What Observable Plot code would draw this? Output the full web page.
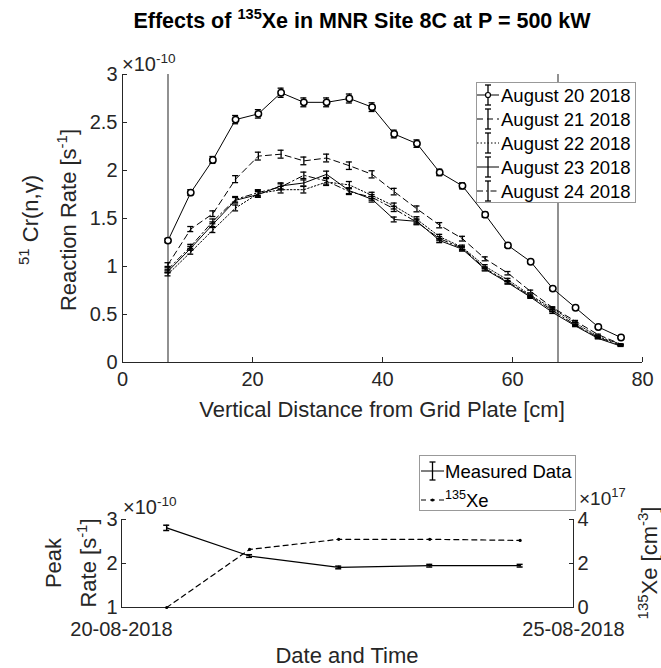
<!DOCTYPE html>
<html><head><meta charset="utf-8">
<script src="https://cdn.jsdelivr.net/npm/d3@7"></script>
<script src="https://cdn.jsdelivr.net/npm/@observablehq/plot@0.6"></script>
<style>
html,body{margin:0;padding:0;background:#fff;}
#fig{position:relative;width:661px;height:668px;overflow:hidden;background:#fff;font-family:"Liberation Sans",Arial,Helvetica,sans-serif;}
#fig svg{position:absolute;left:0;}
</style></head><body><div id="fig"></div>
<script>
// ---------- data ----------
const distance = [7, 10.5, 13.9, 17.4, 20.9, 24.4, 27.9, 31.4, 34.9, 38.4, 41.8, 45.3, 48.8, 52.3, 55.8, 59.3, 62.8, 66.2, 69.7, 73.2, 76.7];
const seriesNames = ["August 20 2018", "August 21 2018", "August 22 2018", "August 23 2018", "August 24 2018"];
const aug20 = [1.27, 1.77, 2.11, 2.53, 2.59, 2.81, 2.71, 2.71, 2.75, 2.66, 2.38, 2.28, 1.98, 1.84, 1.54, 1.22, 1.05, 0.77, 0.57, 0.37, 0.26];
const aug21 = [1.02, 1.39, 1.55, 1.91, 2.15, 2.17, 2.10, 2.13, 2.05, 1.96, 1.78, 1.60, 1.43, 1.29, 1.08, 0.93, 0.74, 0.57, 0.43, 0.29, 0.19];
const aug22 = [0.92, 1.15, 1.38, 1.61, 1.76, 1.80, 1.80, 1.88, 1.85, 1.74, 1.63, 1.49, 1.31, 1.20, 1.00, 0.86, 0.70, 0.56, 0.41, 0.27, 0.19];
const aug23 = [0.95, 1.19, 1.44, 1.69, 1.75, 1.84, 1.87, 1.96, 1.79, 1.70, 1.49, 1.47, 1.27, 1.18, 0.97, 0.83, 0.68, 0.52, 0.38, 0.25, 0.17];
const aug24 = [0.97, 1.21, 1.47, 1.70, 1.77, 1.83, 1.95, 1.89, 1.78, 1.72, 1.60, 1.46, 1.29, 1.19, 0.98, 0.84, 0.69, 0.54, 0.39, 0.26, 0.18];
const relativeError = [0.017, 0.019, 0.019, 0.017, 0.017];
const windowLines = [7, 67];
const xTicks = [0, 20, 40, 60, 80];
const yTicks = [0, 0.5, 1, 1.5, 2, 2.5, 3];

const peakDates = ["2018-08-20T12:00Z", "2018-08-21T10:00Z", "2018-08-22T09:40Z", "2018-08-23T09:50Z", "2018-08-24T09:50Z"];
const peakRate = [2.81, 2.17, 1.91, 1.95, 1.95];
const peakError = [0.06, 0.03, 0.03, 0.03, 0.03];
const xeDensity = [0, 2.64, 3.10, 3.10, 3.05];
const dateTicks = ["2018-08-20T00:00Z", "2018-08-25T00:00Z"];
const rateTicks = [1, 2, 3];
const xeTicks = [0, 2, 4];

// ---------- build tables ----------
const seriesValues = [aug20, aug21, aug22, aug23, aug24];
const dashes = [null, "6,4", "1.5,2", null, "6,3,1.5,3"];
const rows = seriesValues.map((vals, s) => vals.map((v, i) => ({series: seriesNames[s], x: distance[i], y: v, e: v * relativeError[s]})));
const peakRows = peakDates.map((d, i) => ({date: new Date(d), rate: peakRate[i], e: peakError[i], xe: xeDensity[i]}));
const dateDomain = dateTicks.map(d => new Date(d));

const FONT = '"Liberation Sans", Arial, Helvetica, sans-serif';
const AX = "#262626";
const W = 661;
const plain = d => String(d);

function errorMarks(data, x, y, e, sw = 1.3) {
  return [
    Plot.ruleX(data, {x, y1: d => d[y] - d[e], y2: d => d[y] + d[e], stroke: "black", strokeWidth: sw}),
    Plot.ruleY(data, {y: d => d[y] + d[e], x1: x, x2: x, insetLeft: -3, insetRight: -3, stroke: "black", strokeWidth: sw}),
    Plot.ruleY(data, {y: d => d[y] - d[e], x1: x, x2: x, insetLeft: -3, insetRight: -3, stroke: "black", strokeWidth: sw})
  ];
}

// ---------- top chart ----------
const topMarks = [Plot.ruleX(windowLines, {stroke: "#555", strokeWidth: 1.3})];
rows.forEach((r, s) => {
  topMarks.push(Plot.line(r, {x: "x", y: "y", stroke: "black", strokeWidth: 1, strokeDasharray: dashes[s]}));
  topMarks.push(...errorMarks(r, "x", "y", "e", 1.3));
});
topMarks.push(Plot.dot(rows[0], {x: "x", y: "y", r: 3.2, fill: "white", stroke: "black", strokeWidth: 1.5}));
topMarks.push(
  Plot.ruleX([xTicks[0]], {stroke: AX}),
  Plot.ruleY([yTicks[0]], {stroke: AX}),
  Plot.axisX({ticks: xTicks, tickSize: 0, tickPadding: 9, label: null, fill: AX, tickFormat: plain}),
  Plot.axisX({ticks: xTicks, tickSize: -5, fill: "none", stroke: AX, label: null}),
  Plot.axisY({ticks: yTicks, tickSize: 0, tickPadding: 5, label: null, fill: AX, tickFormat: plain}),
  Plot.axisY({ticks: yTicks, tickSize: -5, fill: "none", stroke: AX, label: null})
);
const topPlot = Plot.plot({
  width: W, height: 390, marginTop: 34, marginBottom: 68, marginLeft: 122, marginRight: 19,
  style: {fontFamily: FONT, fontSize: "20px", background: "transparent", overflow: "visible", color: AX},
  x: {domain: [xTicks[0], xTicks[xTicks.length - 1]]},
  y: {domain: [yTicks[0], yTicks[yTicks.length - 1]]},
  marks: topMarks
});
topPlot.style.top = "40px";

// ---------- bottom chart: measured peak rate (left axis) ----------
const bottomPlot = Plot.plot({
  width: W, height: 188, marginTop: 39, marginBottom: 61, marginLeft: 121, marginRight: 88,
  style: {fontFamily: FONT, fontSize: "20px", background: "transparent", overflow: "visible", color: AX},
  x: {type: "utc", domain: dateDomain},
  y: {domain: [rateTicks[0], rateTicks[rateTicks.length - 1]]},
  marks: [
    Plot.line(peakRows, {x: "date", y: "rate", stroke: "black", strokeWidth: 1.2}),
    ...errorMarks(peakRows, "date", "rate", "e", 1.5),
    Plot.ruleX([dateDomain[0]], {stroke: AX}),
    Plot.ruleY([rateTicks[0]], {stroke: AX}),
    Plot.axisX({ticks: dateDomain, tickFormat: d3.utcFormat("%d-%m-%Y"), tickSize: 0, tickPadding: 14, label: null, fill: AX}),
    Plot.axisY({ticks: rateTicks, tickSize: 0, tickPadding: 4, label: null, fill: AX, tickFormat: plain}),
    Plot.axisY({ticks: rateTicks, tickSize: -5, fill: "none", stroke: AX, label: null})
  ]
});
bottomPlot.style.top = "480px";

// ---------- bottom chart: 135Xe (right axis) ----------
const xePlot = Plot.plot({
  width: W, height: 188, marginTop: 39, marginBottom: 61, marginLeft: 121, marginRight: 88,
  style: {fontFamily: FONT, fontSize: "20px", background: "transparent", overflow: "visible", color: AX},
  x: {type: "utc", domain: dateDomain, axis: null},
  y: {domain: [xeTicks[0], xeTicks[xeTicks.length - 1]]},
  marks: [
    Plot.line(peakRows, {x: "date", y: "xe", stroke: "black", strokeWidth: 1.2, strokeDasharray: "5,4"}),
    Plot.dot(peakRows, {x: "date", y: "xe", r: 1.6, fill: "black"}),
    Plot.ruleX([dateDomain[1]], {stroke: AX}),
    Plot.axisY({anchor: "right", ticks: xeTicks, tickSize: 0, tickPadding: 4, label: null, fill: AX, tickFormat: plain}),
    Plot.axisY({anchor: "right", ticks: xeTicks, tickSize: -5, fill: "none", stroke: AX, label: null})
  ]
});
xePlot.style.top = "480px";

const fig = document.getElementById("fig");
fig.append(topPlot, bottomPlot, xePlot);

// ---------- text & legends overlay ----------
const ov = d3.select(fig).append("svg").attr("width", W).attr("height", 668)
  .style("top", "0px").style("font-family", FONT);

function label(x, y, parts, {size = 22, anchor = "middle", rotate = 0, weight = "normal", fill = AX} = {}) {
  const t = ov.append("text").attr("transform", `translate(${x},${y}) rotate(${rotate})`)
    .attr("text-anchor", anchor).attr("font-size", size).attr("font-weight", weight).attr("fill", fill);
  let shift = 0;
  for (const [s, kind] of parts) {
    const want = kind === "sup" ? -0.42 * size : 0;
    t.append("tspan").attr("dy", want - shift).attr("font-size", kind === "sup" ? size * 0.68 : size).text(s);
    shift = want;
  }
  return t;
}

label(362, 28, [["Effects of "], ["135", "sup"], ["Xe in MNR Site 8C at P = 500 kW"]], {size: 21.5, weight: "bold", fill: "black"});
label(122, 71, [["×10"], ["-10", "sup"]], {size: 20, anchor: "start"});
label(38, 220, [["51", "sup"], [" Cr(n,γ)"]], {rotate: -90});
label(76, 220, [["Reaction Rate [s"], ["-1", "sup"], ["]"]], {rotate: -90});
label(382, 417, [["Vertical Distance from Grid Plate [cm]"]]);

label(123, 514, [["×10"], ["-10", "sup"]], {size: 20, anchor: "start"});
label(579, 505, [["×10"], ["17", "sup"]], {size: 19, anchor: "start"});
label(61, 563, [["Peak"]], {rotate: -90});
label(96, 563, [["Rate [s"], ["-1", "sup"], ["]"]], {rotate: -90});
label(657, 563, [["135", "sup"], ["Xe [cm"], ["-3", "sup"], ["]"]], {rotate: -90});
label(347, 663, [["Date and Time"]]);

function swatch(x0, x1, cy, dash, bar, dot, circle) {
  ov.append("line").attr("x1", x0).attr("x2", x1).attr("y1", cy).attr("y2", cy)
    .attr("stroke", "black").attr("stroke-width", 1).attr("stroke-dasharray", dash);
  const xm = (x0 + x1) / 2;
  if (bar) {
    ov.append("line").attr("x1", xm).attr("x2", xm).attr("y1", cy - bar).attr("y2", cy + bar).attr("stroke", "black").attr("stroke-width", 1.3);
    for (const yy of [cy - bar, cy + bar]) ov.append("line").attr("x1", xm - 3).attr("x2", xm + 3).attr("y1", yy).attr("y2", yy).attr("stroke", "black").attr("stroke-width", 1.3);
  }
  if (circle) ov.append("circle").attr("cx", xm).attr("cy", cy).attr("r", 2.5).attr("fill", "white").attr("stroke", "black").attr("stroke-width", 1.2);
  if (dot) ov.append("circle").attr("cx", xm).attr("cy", cy).attr("r", 1.6).attr("fill", "black");
}

// top legend
ov.append("rect").attr("x", 476.5).attr("y", 82.5).attr("width", 159).attr("height", 120).attr("fill", "white").attr("stroke", "#999");
seriesNames.forEach((name, s) => {
  const cy = 95 + s * 24;
  swatch(477, 499, cy, dashes[s], 10, false, s === 0);
  label(501, cy + 6.5, [[name]], {size: 18.5, anchor: "start", fill: "black"});
});

// bottom legend
ov.append("rect").attr("x", 419.5).attr("y", 455.5).attr("width", 156).attr("height", 55).attr("fill", "white").attr("stroke", "#999");
swatch(421, 444, 471, null, 9, false, false);
label(445, 477.5, [["Measured Data"]], {size: 18.5, anchor: "start", fill: "black"});
swatch(421, 444, 500, "5,4", 0, true, false);
label(445, 506.5, [["135", "sup"], ["Xe"]], {size: 18.5, anchor: "start", fill: "black"});
</script>
</body></html>
